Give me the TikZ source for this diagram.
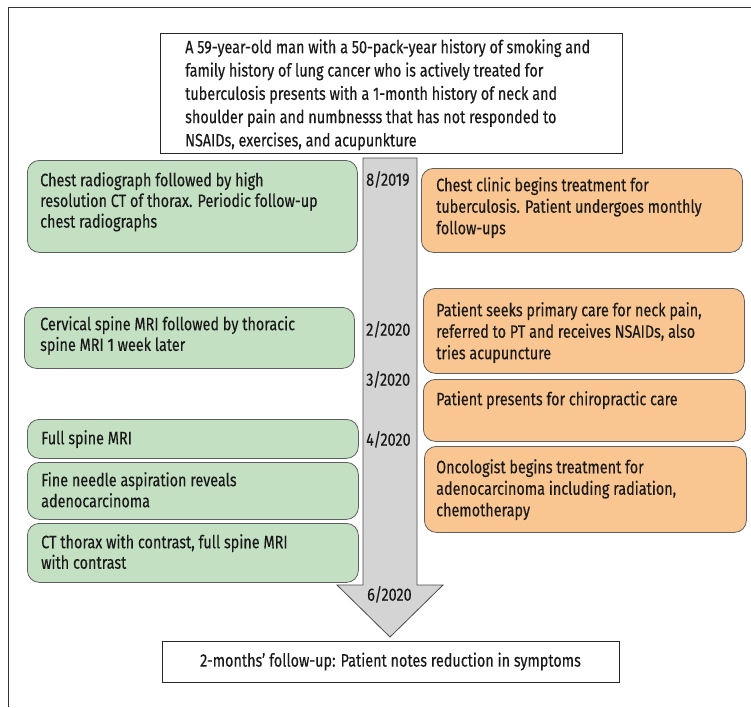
\documentclass[tikz,border=0pt]{standalone}
\usepackage{fontspec}
\setmainfont[FakeStretch=0.80,FakeBold=0.25]{Fira Sans}
\definecolor{gfill}{RGB}{196,224,194}
\definecolor{ofill}{RGB}{249,197,145}
\definecolor{afill}{RGB}{212,212,212}
\definecolor{bdr}{RGB}{95,95,95}
\begin{document}
\begin{tikzpicture}[x=1pt,y=-1pt,
 gbox/.style={draw=bdr, fill=gfill, rounded corners=12pt, line width=0.8pt, anchor=north west, inner sep=0pt},
 obox/.style={draw=bdr, fill=ofill, rounded corners=12pt, line width=0.8pt, anchor=north west, inner sep=0pt},
 wbox/.style={draw=black!85, fill=white, line width=1pt, inner sep=0pt},
 txt/.style={anchor=north west, inner sep=0pt, align=left, font=\fontsize{18}{21.5}\selectfont, text=black!90},
 toptxt/.style={txt, font=\fontsize{18}{23.3}\selectfont},
 datelbl/.style={anchor=north west, inner sep=0pt, font=\fontsize{18}{21.5}\selectfont, text=black!90},
 arrowshape/.style={draw=black!70, fill=afill, line width=0.8pt},
]
\useasboundingbox (0,0) rectangle (751,707);
\fill[white] (0,0) rectangle (751,707);
\draw[line width=1pt, black!80] (8,707) -- (8,7) -- (751,7);

% timeline arrow
\coordinate (atop) at (390,158);
\coordinate (atip) at (390,637);
\draw[arrowshape] (363,158) -- (417,158) -- (417,585) -- (443,585) -- (atip) -- (337,585) -- (363,585) -- cycle;

% top and bottom boxes
\node[wbox, anchor=north west, minimum width=462pt, minimum height=120pt] (top) at (160,33) {};
\node[toptxt] (toptext) at (185,39) {A 59-year-old man with a 50-pack-year history of smoking and\\family history of lung cancer who is actively treated for\\tuberculosis presents with a 1-month history of neck and\\shoulder pain and numbnesss that has not responded to\\NSAIDs, exercises, and acupunkture};
\node[wbox, minimum width=457pt, minimum height=41pt, font=\fontsize{18}{21.5}\selectfont, text=black!90] (bottom) at (390.5,661.5) {2-months' follow-up: Patient notes reduction in symptoms};

% green boxes
\node[gbox, minimum width=330pt, minimum height=92pt] (g1) at (27,160) {};
\node[gbox, minimum width=330pt, minimum height=61pt] (g2) at (24,307) {};
\node[gbox, minimum width=331pt, minimum height=39pt] (g3) at (27,419) {};
\node[gbox, minimum width=331pt, minimum height=57pt] (g4) at (27,462) {};
\node[gbox, minimum width=331pt, minimum height=59pt] (g5) at (27,523) {};
\node[txt, font=\fontsize{18}{20.7}\selectfont] (g1t) at (40,172) {Chest radiograph followed by high\\resolution CT of thorax. Periodic follow-up\\chest radiographs};
\node[txt, font=\fontsize{18}{20.7}\selectfont] (g2t) at (40,316) {Cervical spine MRI followed by thoracic\\spine MRI 1 week later};
\node[txt] (g3t) at (41,430) {Full spine MRI};
\node[txt, font=\fontsize{18}{21}\selectfont] (g4t) at (41,472) {Fine needle aspiration reveals\\adenocarcinoma};
\node[txt, font=\fontsize{18}{20.5}\selectfont] (g5t) at (41,534) {CT thorax with contrast, full spine MRI\\with contrast};

% orange boxes
\node[obox, minimum width=321pt, minimum height=84pt] (o1) at (421,168) {};
\node[obox, minimum width=321pt, minimum height=85pt] (o2) at (423,288) {};
\node[obox, minimum width=322pt, minimum height=62pt] (o3) at (423,379) {};
\node[obox, minimum width=322pt, minimum height=86pt] (o4) at (424,446) {};
\node[txt] (o1t) at (436,177) {Chest clinic begins treatment for\\tuberculosis. Patient undergoes monthly\\follow-ups};
\node[txt] (o2t) at (436,302) {Patient seeks primary care for neck pain,\\referred to PT and receives NSAIDs, also\\tries acupuncture};
\node[txt] (o3t) at (436,391) {Patient presents for chiropractic care};
\node[txt] (o4t) at (436,459) {Oncologist begins treatment for\\adenocarcinoma including radiation,\\chemotherapy};

% dates
\node[datelbl] (d1) at (366,171) {8/2019};
\node[datelbl] (d2) at (366,321) {2/2020};
\node[datelbl] (d3) at (366,371) {3/2020};
\node[datelbl] (d4) at (366,431) {4/2020};
\node[datelbl] (d5) at (367,586) {6/2020};
\end{tikzpicture}
\end{document}
